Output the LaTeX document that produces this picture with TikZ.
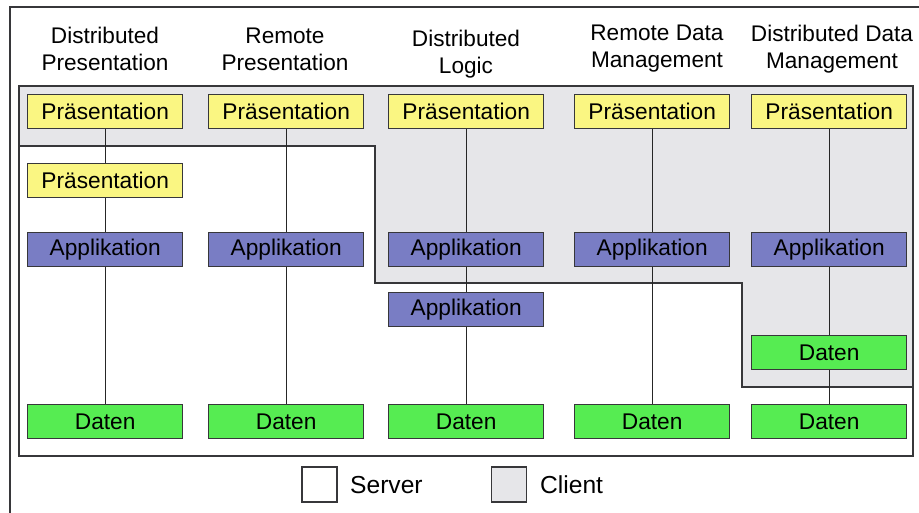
\documentclass[tikz,border=0pt]{standalone}
\usepackage{fontspec}
\setmainfont{Liberation Sans}
\definecolor{clientgray}{RGB}{230,230,233}
\definecolor{praes}{RGB}{250,246,130}
\definecolor{appl}{RGB}{121,125,196}
\definecolor{daten}{RGB}{86,236,82}
\definecolor{edge}{RGB}{55,55,58}
\begin{document}
\begin{tikzpicture}[x=1pt,y=-1pt,
  layer/.style={draw=edge,line width=1.4pt,minimum width=155pt,minimum height=34pt,inner sep=0pt,
    font=\fontsize{22.7}{26}\selectfont,anchor=north west},
  pbox/.style={layer,fill=praes},
  abox/.style={layer,fill=appl},
  dbox/.style={layer,fill=daten},
  head/.style={align=center,font=\fontsize{22.6}{27}\selectfont,inner sep=0pt},
  conn/.style={draw=black!85,line width=1.1pt},
  frame/.style={draw=edge,line width=1.6pt},
  legbox/.style={draw=edge,line width=1.4pt,minimum width=35pt,minimum height=35pt,inner sep=0pt},
  legtext/.style={font=\fontsize{24.6}{28}\selectfont,inner sep=0pt,anchor=west}]
\useasboundingbox (0,0) rectangle (919,512);
\fill[white] (0,0) rectangle (919,512);
% outer frame
\draw[frame] (10,520) -- (10,7) -- (930,7);
% client region
\fill[clientgray] (19,86) -- (913,86) -- (913,387) -- (742,387) -- (742,283) -- (375,283) -- (375,146) -- (19,146) -- cycle;
\draw[frame] (19,146) -- (375,146) -- (375,283) -- (742,283) -- (742,387) -- (913,387);
\draw[frame] (19,86) rectangle (913,456);
% headers
\node[head] (h1) at (105,49) {Distributed\\Presentation};
\node[head] (h2) at (285,49) {Remote\\Presentation};
\node[head] (h3) at (466,54) {Distributed\\Logic};
\node[head] (h4) at (657,49) {Remote Data\\Management};
\node[head] (h5) at (832,49) {Distributed Data\\Management};
% column 1
\node[pbox] (p1) at (27,94) {Präsentation};
\node[pbox] (p1b) at (27,163) {Präsentation};
\node[abox] (a1) at (27,232) {Applikation};
\node[dbox] (d1) at (27,404) {Daten};
% column 2
\node[pbox] (p2) at (208,94) {Präsentation};
\node[abox] (a2) at (208,232) {Applikation};
\node[dbox] (d2) at (208,404) {Daten};
% column 3
\node[pbox] (p3) at (388,94) {Präsentation};
\node[abox] (a3) at (388,232) {Applikation};
\node[abox] (a3b) at (388,292) {Applikation};
\node[dbox] (d3) at (388,404) {Daten};
% column 4
\node[pbox] (p4) at (574,94) {Präsentation};
\node[abox] (a4) at (574,232) {Applikation};
\node[dbox] (d4) at (574,404) {Daten};
% column 5
\node[pbox] (p5) at (751,94) {Präsentation};
\node[abox] (a5) at (751,232) {Applikation};
\node[dbox] (d5b) at (751,335) {Daten};
\node[dbox] (d5) at (751,404) {Daten};
% connectors
\begin{scope}[on background layer/.style={}]
\end{scope}
\draw[conn] (p1.south) -- (p1b.north);
\draw[conn] (p1b.south) -- (a1.north);
\draw[conn] (a1.south) -- (d1.north);
\draw[conn] (p2.south) -- (a2.north);
\draw[conn] (a2.south) -- (d2.north);
\draw[conn] (p3.south) -- (a3.north);
\draw[conn] (a3.south) -- (a3b.north);
\draw[conn] (a3b.south) -- (d3.north);
\draw[conn] (p4.south) -- (a4.north);
\draw[conn] (a4.south) -- (d4.north);
\draw[conn] (p5.south) -- (a5.north);
\draw[conn] (a5.south) -- (d5b.north);
\draw[conn] (d5b.south) -- (d5.north);
% legend
\node[legbox,fill=white] (ls) at (319.5,484.5) {};
\node[legtext] (lst) at (350,485) {Server};
\node[legbox,fill=clientgray] (lc) at (509,484.5) {};
\node[legtext] (lct) at (540,485) {Client};
\end{tikzpicture}
\end{document}
